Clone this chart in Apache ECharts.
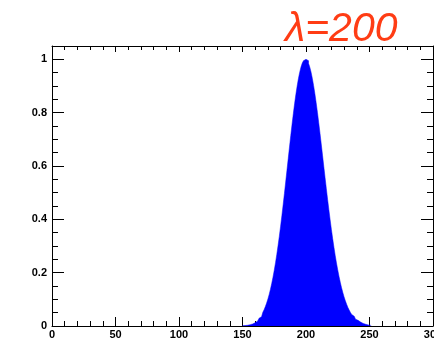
<!DOCTYPE html>
<html><head><meta charset="utf-8">
<script src="https://cdn.jsdelivr.net/npm/echarts@6/dist/echarts.min.js"></script>
<style>html,body{margin:0;padding:0;background:#fff}#c{width:434px;height:340px}</style>
</head><body><div id="c"></div>
<script>
// histogram: integer bins starting at firstBin (width 1), normalised contents
var firstBin = 150;
var binValues = [
0.0012,0.0016,0.0022,0.0028,0.0037,0.0047,0.0060,0.0077,0.0097,0.0122,
0.0153,0.0190,0.0234,0.0287,0.0350,0.0424,0.0511,0.0611,0.0728,0.0861,
0.1013,0.1184,0.1377,0.1592,0.1830,0.2091,0.2376,0.2685,0.3016,0.3370,
0.3744,0.4137,0.4546,0.4968,0.5400,0.5838,0.6278,0.6714,0.7143,0.7558,
0.7956,0.8331,0.8678,0.8993,0.9271,0.9509,0.9703,0.9850,0.9950,1.0000,
1.0000,0.9950,0.9850,0.9706,0.9516,0.9284,0.9013,0.8709,0.8374,0.8014,
0.7632,0.7235,0.6826,0.6408,0.5988,0.5570,0.5158,0.4753,0.4361,0.3983,
0.3621,0.3277,0.2952,0.2647,0.2363,0.2101,0.1859,0.1638,0.1436,0.1254,
0.1091,0.0944,0.0814,0.0698,0.0597,0.0508,0.0430,0.0363,0.0305,0.0255,
0.0213,0.0176,0.0146,0.0120,0.0098,0.0080,0.0065,0.0053,0.0042,0.0034,
0.0027];
var xTicks = [0,50,100,150,200,250,300];
var yTicks = [0,0.2,0.4,0.6,0.8,1];
var titleText = 'λ=200';

var pts = [];
for (var i = 0; i < binValues.length; i++) pts.push([firstBin + i, binValues[i]]);
pts.push([firstBin + binValues.length, 0]);

var lab = {fontFamily:'Liberation Sans', fontWeight:'bold', fontSize:11, color:'#000'};
var chart = echarts.init(document.getElementById('c'), null, {renderer:'canvas'});
chart.setOption({
  animation:false,
  title:{text:titleText, left:280, top:4, textStyle:{fontFamily:'Liberation Sans', fontStyle:'italic', fontWeight:'normal', fontSize:41, color:'#FF3C14'}},
  grid:{left:52, right:1, top:46, bottom:14, outerBoundsMode:'none', containLabel:false},
  xAxis:[{type:'value', min:xTicks[0], max:xTicks[xTicks.length-1], interval:50, position:'bottom',
    axisLine:{onZero:false, lineStyle:{color:'#000', width:1}},
    axisTick:{inside:true, length:9, lineStyle:{color:'#000'}},
    minorTick:{show:true, splitNumber:5, length:5, lineStyle:{color:'#000'}},
    axisLabel:Object.assign({margin:3}, lab), splitLine:{show:false}},
   {type:'value', min:xTicks[0], max:xTicks[xTicks.length-1], interval:50, position:'top',
    axisLine:{onZero:false, lineStyle:{color:'#000', width:1}},
    axisTick:{inside:true, length:6, lineStyle:{color:'#000'}},
    minorTick:{show:true, splitNumber:5, length:4, lineStyle:{color:'#000'}},
    axisLabel:{show:false}, splitLine:{show:false}}],
  yAxis:[{type:'value', min:0, max:1.05, interval:0.2, position:'left',
    axisLine:{onZero:false, show:true, lineStyle:{color:'#000', width:1}},
    axisTick:{show:true, inside:true, length:12, lineStyle:{color:'#000'}},
    minorTick:{show:true, splitNumber:4, length:6, lineStyle:{color:'#000'}},
    axisLabel:Object.assign({margin:5, showMaxLabel:false, formatter:function(v){return String(+v.toFixed(2));}}, lab), splitLine:{show:false}},
   {type:'value', min:0, max:1.05, interval:0.2, position:'right',
    axisLine:{onZero:false, show:true, lineStyle:{color:'#000', width:1}},
    axisTick:{show:true, inside:true, length:12, lineStyle:{color:'#000'}},
    minorTick:{show:true, splitNumber:4, length:6, lineStyle:{color:'#000'}},
    axisLabel:{show:false}, splitLine:{show:false}}],
  series:[{type:'line', step:'end', data:pts, xAxisIndex:0, yAxisIndex:0, showSymbol:false, symbol:'none',
    lineStyle:{width:0.5, color:'#0000FF'}, areaStyle:{color:'#0000FF', opacity:1}}]
});
</script></body></html>
